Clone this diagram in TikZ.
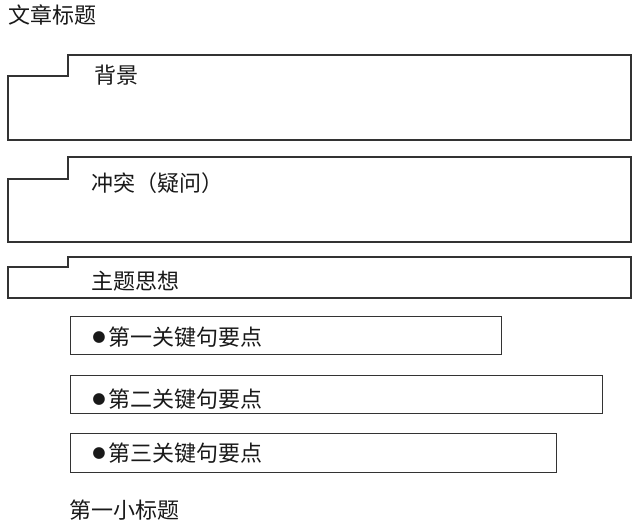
\documentclass[tikz,border=0pt]{standalone}
\usepackage{fontspec}
\setmainfont{Noto Sans CJK SC}
\newfontfamily\bulletfont{DejaVu Sans}
\newcommand{\mybullet}{\raisebox{2.6pt}{\bulletfont\fontsize{11.5}{12}\selectfont ●}\hspace{2.5pt}}
\tikzset{
  frame/.style={draw=black!80, line width=1.1pt, line join=miter},
  lbl/.style={anchor=west, inner sep=0pt, font=\fontsize{16.5}{19}\selectfont, text=black!90},
  pointbox/.style={draw=black!80, line width=1.1pt, rectangle, inner sep=0pt, anchor=north west}
}
\begin{document}
\begin{tikzpicture}[x=0.75pt, y=-0.75pt]
\useasboundingbox[fill=white] (0,0) rectangle (640,524);
% title
\node[lbl] (title) at (8,15) {文章标题};
% tabbed sections
\draw[frame] (8,76) -- (68,76) -- (68,55) -- (631,55) -- (631,140) -- (8,140) -- cycle;
\node[lbl] (bg) at (94,75) {背景};
\draw[frame] (8,179) -- (68,179) -- (68,157) -- (631,157) -- (631,242) -- (8,242) -- cycle;
\node[lbl] (conf) at (91,183) {冲突（疑问）};
\draw[frame] (8,267) -- (68,267) -- (68,257) -- (631,257) -- (631,298) -- (8,298) -- cycle;
\node[lbl] (theme) at (91,281) {主题思想};
% key point boxes
\node[pointbox, minimum width=323.25pt, minimum height=28.5pt] (b1) at (70,316) {};
\node[lbl] (t1) at (92,337) {\mybullet 第一关键句要点};
\node[pointbox, minimum width=399pt, minimum height=28.5pt] (b2) at (70,375) {};
\node[lbl] (t2) at (92,399) {\mybullet 第二关键句要点};
\node[pointbox, minimum width=364.5pt, minimum height=29.25pt] (b3) at (70,433) {};
\node[lbl] (t3) at (92,453) {\mybullet 第三关键句要点};
% subtitle
\node[lbl] (sub) at (69,510) {第一小标题};
\end{tikzpicture}
\end{document}
